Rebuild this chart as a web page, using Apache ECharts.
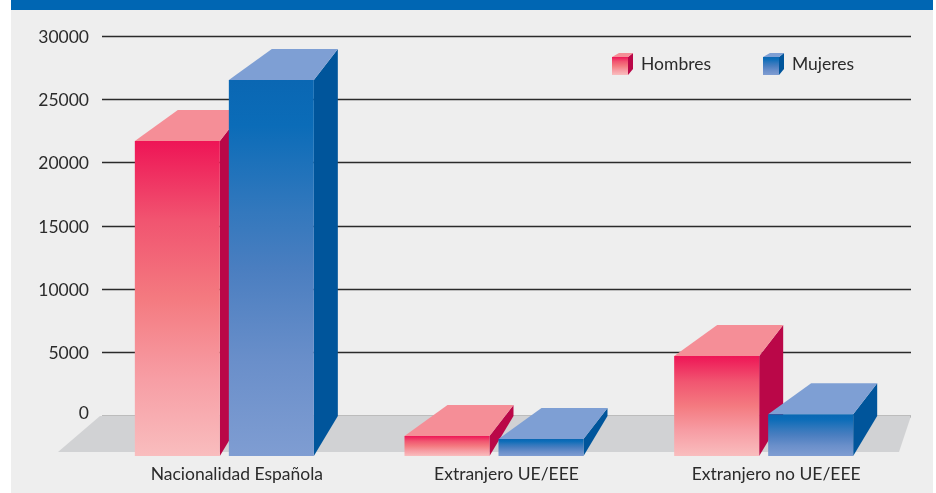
<!DOCTYPE html>
<html>
<head>
<meta charset="utf-8">
<style>
html,body{margin:0;padding:0;background:#fff;}
#chart{width:936px;height:493px;}
</style>
<script src="https://cdn.jsdelivr.net/npm/echarts@6/dist/echarts.min.js"></script>
</head>
<body>
<div id="chart"></div>
<script>
var categories = ['Nacionalidad Española', 'Extranjero UE/EEE', 'Extranjero no UE/EEE'];
var hombres = [24150, 870, 7180];
var mujeres = [28970, 630, 2580];
var legendNames = ['Hombres', 'Mujeres'];

var labelFont = 'Lato, "Liberation Sans", sans-serif';
var textColor = '#2B2B2B';
var pink = {
    front: [[0, '#EE1556'], [0.25, '#F15470'], [0.5, '#F47A80'], [0.75, '#F79DA4'], [1, '#F9BDBE']],
    top: '#F58E97',
    side: '#BA0748'
};
var blue = {
    front: [[0, '#0A67B3'], [0.12, '#0B6CB8'], [0.35, '#3378BD'], [0.5, '#4A7EC0'], [0.75, '#6A8FCA'], [1, '#7F9DD2']],
    top: '#7E9FD4',
    side: '#00559B'
};

// caras del prisma: el valor se lee en el plano de fondo, donde estan las lineas
var barW = 85, depthLeft = 43, depthRight = 24, topDrop = 31, baseDrop = 40;

function gradient(stops) {
    return new echarts.graphic.LinearGradient(0, 0, 0, 1, stops.map(function (s) {
        return { offset: s[0], color: s[1] };
    }));
}

function poly(points, fill) {
    return { type: 'polygon', shape: { points: points }, style: { fill: fill } };
}

function prism(offset, colors) {
    return function (params, api) {
        var back = api.coord([api.value(0), api.value(1)]);
        var base = api.coord([api.value(0), 0]);
        var x = back[0] + offset;
        var yBack = back[1], yFront = back[1] + topDrop, yBase = base[1] + baseDrop;
        return {
            type: 'group',
            children: [
                poly([[x + barW, yFront], [x + barW + depthRight, yBack], [x + barW + depthRight, base[1]], [x + barW, yBase]], colors.side),
                poly([[x, yFront], [x + depthLeft, yBack], [x + barW + depthRight, yBack], [x + barW, yFront]], colors.top),
                poly([[x, yFront], [x + barW, yFront], [x + barW, yBase], [x, yBase]], gradient(colors.front))
            ]
        };
    };
}

function floorItem(params, api) {
    var g = params.coordSys;
    var y = g.y + g.height;
    return poly([[g.x - 2, y], [g.x + g.width, y], [g.x + g.width - 12, y + 36], [g.x - 44, y + 36]], '#D1D2D4');
}

function cube(x, colors) {
    return [
        { type: 'polygon', shape: { points: [[x + 16, 57], [x + 21, 53], [x + 21, 69], [x + 16, 75]] }, style: { fill: colors.side } },
        { type: 'polygon', shape: { points: [[x, 57], [x + 7, 53], [x + 21, 53], [x + 16, 57]] }, style: { fill: colors.top } },
        { type: 'rect', shape: { x: x, y: 57, width: 16, height: 18 }, style: { fill: gradient(colors.front) } }
    ];
}

function legendText(x, name) {
    return {
        type: 'text', x: x, y: 64,
        style: { text: name, fill: textColor, font: '17.5px ' + labelFont, textVerticalAlign: 'middle' }
    };
}

var chart = echarts.init(document.getElementById('chart'), null, { renderer: 'canvas' });

chart.setOption({
    animation: false,
    backgroundColor: '#fff',
    graphic: [
        { type: 'rect', z: -10, shape: { x: 11, y: 0, width: 922, height: 493 }, style: { fill: '#EEEEEE' } },
        { type: 'rect', z: -9, shape: { x: 11, y: 0, width: 922, height: 10 }, style: { fill: '#0066B3' } },
        {
            type: 'group', z: 10,
            children: cube(612, pink).concat(cube(763, blue), [
                legendText(641, legendNames[0]),
                legendText(792, legendNames[1])
            ])
        }
    ],
    grid: { left: 102, right: 25, top: 36, bottom: 77 },
    xAxis: {
        type: 'category',
        data: categories,
        axisLine: { show: false },
        axisTick: { show: false },
        axisLabel: { interval: 0, margin: 49, color: textColor, fontFamily: labelFont, fontSize: 17.5 }
    },
    yAxis: {
        type: 'value',
        min: 0,
        max: 30000,
        interval: 5000,
        axisLine: { show: false },
        axisTick: { show: false },
        axisLabel: {
            margin: 13,
            color: textColor,
            fontFamily: labelFont,
            fontSize: 17.5,
            padding: [2, 0, 0, 0],
            formatter: function (v) { return v === 0 ? '{zero|0}' : String(v); },
            rich: {
                zero: { color: textColor, fontFamily: labelFont, fontSize: 17.5, padding: [0, 0, 8, 0] }
            }
        },
        splitLine: { lineStyle: { color: '#2A2A2A', width: 1.4 } }
    },
    series: [
        { type: 'custom', name: 'Suelo', z: 1, silent: true, renderItem: floorItem, data: [[0, 0]] },
        {
            type: 'custom', name: legendNames[0], z: 3, renderItem: prism(-102, pink),
            data: hombres.map(function (v, i) { return [i, v]; })
        },
        {
            type: 'custom', name: legendNames[1], z: 4, renderItem: prism(-8, blue),
            data: mujeres.map(function (v, i) { return [i, v]; })
        }
    ]
});
</script>
</body>
</html>
